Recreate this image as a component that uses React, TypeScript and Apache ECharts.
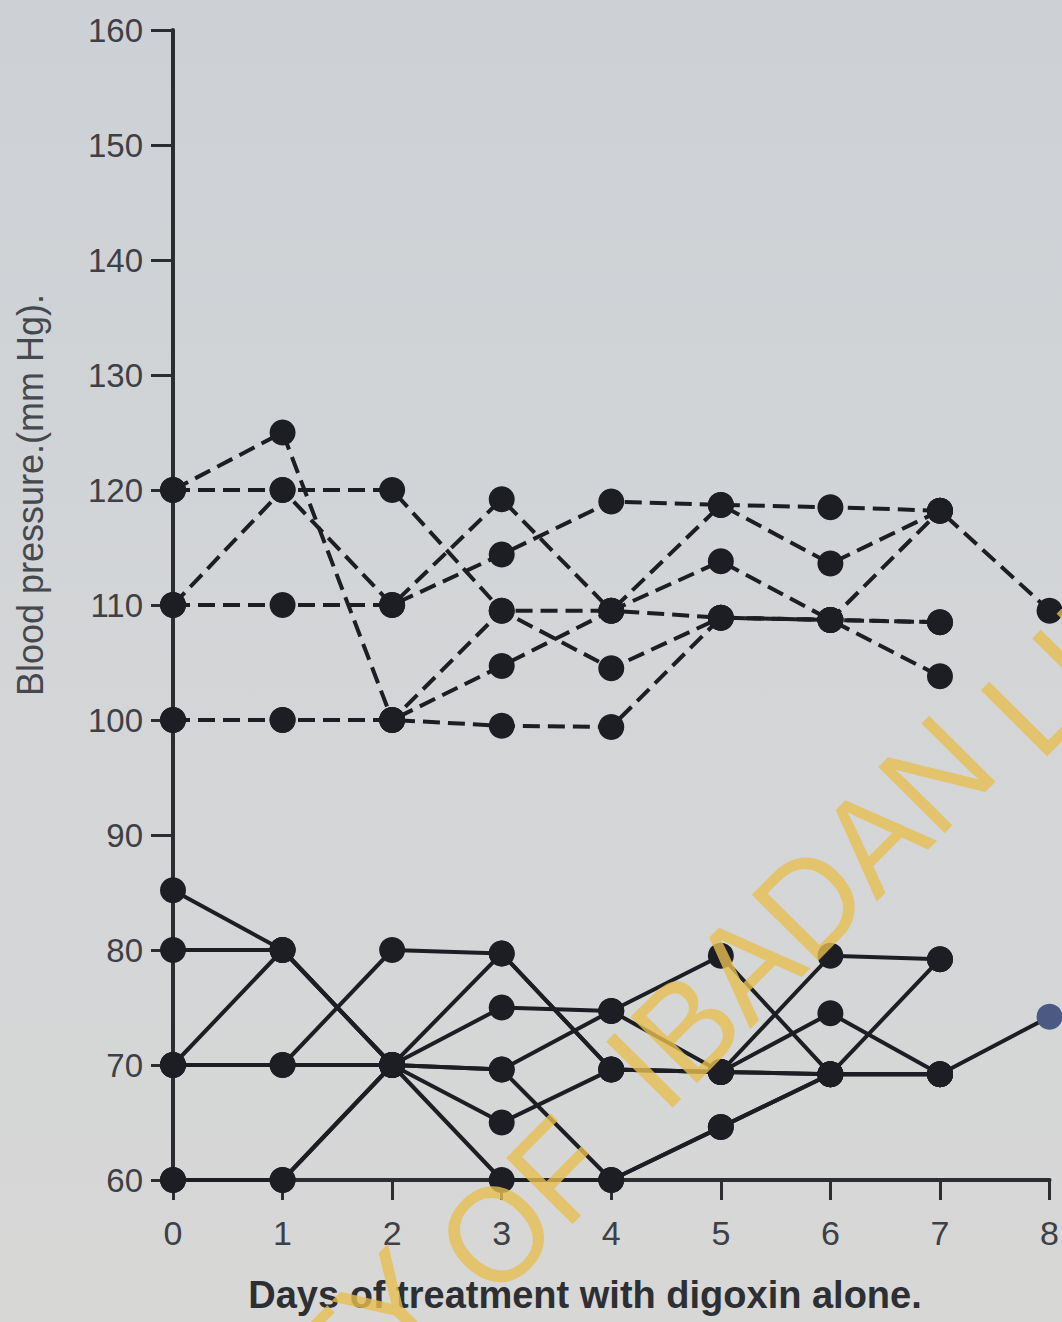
import React, { useEffect, useRef } from "react";
import * as echarts from "echarts";

// Days of treatment (x)
const days = [0, 1, 2, 3, 4, 5, 6, 7, 8];
const yTicks = [60, 70, 80, 90, 100, 110, 120, 130, 140, 150, 160];

// Systolic (dashed) series, mm Hg
const sys1 = [120, 125, 100, 109.5, 109.5, 118.7, 118.5, 118.2, 109.5];
const sys2 = [120, 120, 120, 109.5, 104.5, 108.9, 108.7, 108.5];
const sys3 = [110, 120, 110, 119.2, 109.5, 113.8, 108.7, 103.8];
const sys4 = [110, 110, 110, 114.4, 119, 118.7, 113.6, 118.2];
const sys5 = [100, 100, 100, 104.7, 109.5, 108.9, 108.7, 108.5];
const sys6 = [100, 100, 100, 99.5, 99.4, 108.9, 108.7, 118.2];

// Diastolic (solid) series, mm Hg
const dia1 = [85.2, 80, 70, 79.7, 69.6, 69.4, 79.5, 79.2];
const dia2 = [80, 80, 70, 75, 74.7, 79.5, 69.2, 79.2];
const dia3 = [70, 80, 70, 69.6, 74.7, 69.4, 74.5, 69.2, 74.2];
const dia4 = [70, 70, 80, 79.7, 69.6, 69.4, 69.2, 69.2];
const dia5 = [70, 70, 70, 69.6, 60, 64.6, 69.2, 69.2];
const dia6 = [60, 60, 70, 65, 69.6, 69.4, 69.2, 69.2];
const dia7 = [60, 60, 70, 60, 60, 64.6, 69.2];

const systolic = [sys1, sys2, sys3, sys4, sys5, sys6];
const diastolic = [dia1, dia2, dia3, dia4, dia5, dia6, dia7];

// Watermark words
const watermarkWords = ["UNIVERSITY", "OF", "IBADAN", "LIBRARY"];
const watermarkCenters = [
  [150, 1550],
  [524, 1206],
  [800, 912],
  [1200, 535],
];

const INK = "#1d1e23";

function makeSeries(vals: number[], dashed: boolean) {
  return {
    type: "line",
    data: vals.map((v, i) => ({
      value: [days[i], v],
      itemStyle: !dashed && days[i] === 8 ? { color: "#4a5a82" } : undefined,
    })),
    symbol: "circle",
    symbolSize: 26,
    clip: false,
    silent: true,
    lineStyle: { color: INK, width: 4, type: dashed ? [17, 8] : "solid" },
    itemStyle: { color: INK },
    z: 3,
  };
}

export default function App() {
  const ref = useRef<HTMLDivElement>(null);
  useEffect(() => {
    if (!ref.current) return;
    const chart = echarts.init(ref.current, undefined, { renderer: "svg" });
    const axisFont = "'Liberation Sans Narrow', 'Liberation Sans', sans-serif";
    chart.setOption({
      animation: false,
      backgroundColor: "transparent",
      grid: { left: 173, right: 9, top: 30, bottom: 142 },
      xAxis: {
        type: "value",
        min: 0,
        max: 8,
        interval: 1,
        splitLine: { show: false },
        axisLine: { show: true, lineStyle: { color: "#2b2d31", width: 4 } },
        axisTick: { show: true, length: 20, lineStyle: { color: "#2b2d31", width: 3 } },
        axisLabel: {
          margin: 36,
          fontSize: 34,
          fontFamily: axisFont,
          color: "#3d4045",
          showMaxLabel: true,
        },
      },
      yAxis: {
        type: "value",
        min: yTicks[0],
        max: yTicks[yTicks.length - 1],
        interval: 10,
        splitLine: { show: false },
        axisLine: { show: true, lineStyle: { color: "#2b2d31", width: 4 } },
        axisTick: { show: true, length: 22, lineStyle: { color: "#2b2d31", width: 3 } },
        axisLabel: {
          margin: 30,
          fontSize: 33,
          fontFamily: axisFont,
          color: "#3d4045",
        },
      },
      graphic: [
        {
          type: "text",
          x: 30,
          y: 495,
          rotation: Math.PI / 2,
          style: {
            text: "Blood pressure.(mm Hg).",
            fontSize: 36,
            fontFamily: "'Liberation Sans', sans-serif",
            fill: "#45484c",
            textAlign: "center",
            textVerticalAlign: "middle",
          },
        },
        {
          type: "text",
          x: 585,
          y: 1295,
          style: {
            text: "Days of treatment with digoxin alone.",
            fontSize: 38,
            fontWeight: "bold",
            fontFamily: "'Liberation Sans', sans-serif",
            fill: "#2d2f33",
            textAlign: "center",
            textVerticalAlign: "middle",
          },
        },
        ...watermarkWords.map((w, i) => ({
          type: "text",
          x: watermarkCenters[i][0],
          y: watermarkCenters[i][1],
          rotation: 0.79,
          scaleX: 0.95,
          z: 100,
          silent: true,
          style: {
            text: w,
            fontSize: 136,
            fontFamily: "'Liberation Sans', sans-serif",
            fill: "rgba(230,190,80,0.8)",
            textAlign: "center",
            textVerticalAlign: "middle",
          },
        })),
      ],
      series: [
        ...systolic.map((s) => makeSeries(s, true)),
        ...diastolic.map((s) => makeSeries(s, false)),
      ],
    });
    return () => chart.dispose();
  }, []);
  return (
    <div
      ref={ref}
      style={{
        position: "fixed",
        left: 0,
        top: 0,
        width: 1062,
        height: 1322,
        background: "linear-gradient(180deg, #cdd1d5 0%, #d3d5d7 50%, #d7d7d6 100%)",
      }}
    />
  );
}
